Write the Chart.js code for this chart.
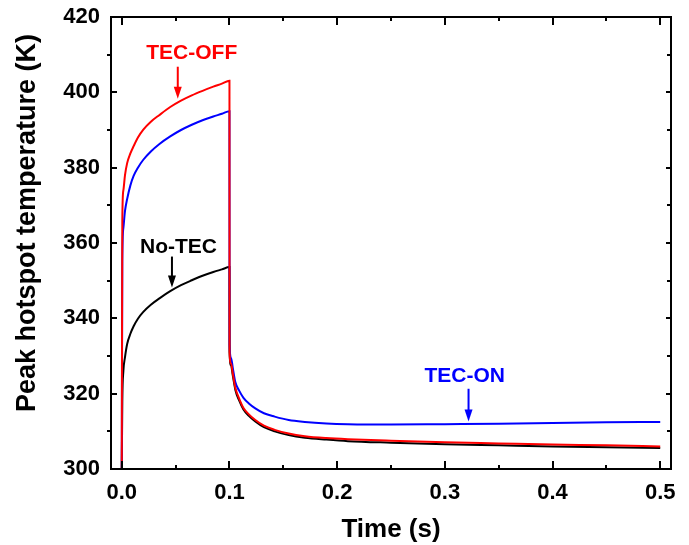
<!DOCTYPE html>
<html>
<head>
<meta charset="utf-8">
<script src="https://cdn.jsdelivr.net/npm/chart.js@4"></script>
<style>
  html, body { margin: 0; padding: 0; background: #fff; }
  canvas { display: block; }
</style>
</head>
<body>
<canvas id="tempChart" width="689" height="545"></canvas>
<script>
// time points (s) — 0.1 and 0.1001 bracket the pulse-off drop
const times = [0, 0.0005, 0.0015, 0.003, 0.005, 0.008, 0.011, 0.015, 0.02, 0.027, 0.035, 0.045, 0.055, 0.065, 0.075, 0.085, 0.093, 0.1,
  0.1001, 0.1015, 0.103, 0.1055, 0.109, 0.113, 0.118, 0.124, 0.132, 0.142, 0.155, 0.17, 0.19, 0.21, 0.25, 0.3, 0.35, 0.4, 0.45, 0.5];

// peak hotspot temperature (K)
const tecOff = [300, 366, 374, 378, 381.2, 383.8, 385.7, 388, 390.1, 392.2, 394, 396.1, 397.8, 399.2, 400.4, 401.5, 402.3, 403.1,
  331, 328, 325.5, 321.5, 318.7, 316.2, 314.5, 313.0, 311.5, 310.4, 309.4, 308.7, 308.2, 307.9, 307.5, 307.1, 306.8, 306.5, 306.3, 306.0];
const tecOn = [300, 355, 364, 368.5, 371.7, 375.3, 377.8, 380, 382.1, 384.3, 386.3, 388.3, 390.0, 391.4, 392.6, 393.6, 394.3, 395.0,
  333, 329.5, 327, 323, 320.8, 318.9, 317.4, 316.1, 314.8, 313.9, 313.0, 312.5, 312.1, 311.9, 311.8, 311.9, 312.0, 312.2, 312.4, 312.5];
const noTec = [300, 318, 326, 329.7, 333.2, 335.9, 337.9, 339.9, 341.7, 343.6, 345.3, 347.2, 348.8, 350.1, 351.3, 352.3, 353.0, 353.6,
  331, 327.5, 325, 321, 318.2, 315.8, 314.1, 312.6, 311.1, 310.0, 309.0, 308.3, 307.8, 307.4, 307.0, 306.6, 306.3, 306.0, 305.8, 305.6];

const xTicks = [0, 0.1, 0.2, 0.3, 0.4, 0.5];
const yTicks = [300, 320, 340, 360, 380, 400, 420];
const xMinor = [0.05, 0.15, 0.25, 0.35, 0.45];
const yMinor = [310, 330, 350, 370, 390, 410];

// labels with arrows: [text, colour, textX, textY, arrowX, arrowFromY, arrowToY] in data units
const labels = [
  ['TEC-OFF', '#ff0000', 0.065, 410.5, 0.052, 406.8, 398.3],
  ['No-TEC', '#000000', 0.0527, 358.9, 0.0466, 356.4, 348.2],
  ['TEC-ON', '#0000ff', 0.3185, 324.6, 0.322, 321.3, 312.6]
];

const FONT = '"Liberation Sans", Arial, sans-serif';

function pts(ys) {
  return times.map((t, i) => ({ x: t, y: ys[i] }));
}

// frame, ticks, y title and the arrow labels
const decor = {
  id: 'decor',
  afterDraw(chart) {
    const ctx = chart.ctx;
    const a = chart.chartArea;
    const xs = chart.scales.x, ys = chart.scales.y;
    ctx.save();
    ctx.strokeStyle = '#000';
    ctx.lineWidth = 2;
    ctx.beginPath();
    function tick(x1, y1, x2, y2) { ctx.moveTo(x1, y1); ctx.lineTo(x2, y2); }
    xTicks.forEach(v => {
      const p = Math.round(xs.getPixelForValue(v));
      tick(p, a.bottom, p, a.bottom - 8);
      tick(p, a.top, p, a.top + 8);
    });
    xMinor.forEach(v => {
      const p = Math.round(xs.getPixelForValue(v));
      tick(p, a.bottom, p, a.bottom - 4);
      tick(p, a.top, p, a.top + 4);
    });
    yTicks.forEach(v => {
      const p = Math.round(ys.getPixelForValue(v));
      tick(a.left, p, a.left + 6, p);
      tick(a.right, p, a.right - 5, p);
    });
    yMinor.forEach(v => {
      const p = Math.round(ys.getPixelForValue(v));
      tick(a.left, p, a.left - 4, p);
      tick(a.right, p, a.right - 4, p);
    });
    ctx.stroke();
    ctx.strokeRect(a.left, a.top, a.right - a.left, a.bottom - a.top);

    // y axis title
    ctx.fillStyle = '#000';
    ctx.font = 'bold 27px ' + FONT;
    ctx.textAlign = 'center';
    ctx.textBaseline = 'middle';
    ctx.translate(28, 223);
    ctx.rotate(-Math.PI / 2);
    ctx.fillText('Peak hotspot temperature (K)', 0, 0);
    ctx.restore();

    ctx.save();
    ctx.font = 'bold 21px ' + FONT;
    ctx.textAlign = 'center';
    ctx.textBaseline = 'middle';
    labels.forEach(([txt, col, tx, ty, ax, ay1, ay2]) => {
      ctx.fillStyle = col;
      ctx.strokeStyle = col;
      ctx.fillText(txt, xs.getPixelForValue(tx), ys.getPixelForValue(ty));
      const x = xs.getPixelForValue(ax);
      const y1 = ys.getPixelForValue(ay1), y2 = ys.getPixelForValue(ay2);
      ctx.lineWidth = 2;
      ctx.beginPath();
      ctx.moveTo(x, y1);
      ctx.lineTo(x, y2 - 10);
      ctx.stroke();
      ctx.beginPath();
      ctx.moveTo(x - 4, y2 - 12);
      ctx.lineTo(x + 4, y2 - 12);
      ctx.lineTo(x, y2);
      ctx.closePath();
      ctx.fill();
    });
    ctx.restore();
  }
};

const line = { borderWidth: 2, pointRadius: 0, cubicInterpolationMode: 'monotone' };

const ctx = document.getElementById('tempChart').getContext('2d');
new Chart(ctx, {
  type: 'line',
  data: {
    datasets: [
      { label: 'TEC-OFF', data: pts(tecOff), borderColor: '#ff0000', ...line },
      { label: 'TEC-ON', data: pts(tecOn), borderColor: '#0000ff', ...line },
      { label: 'No-TEC', data: pts(noTec), borderColor: '#000000', ...line }
    ]
  },
  options: {
    responsive: false,
    animation: false,
    devicePixelRatio: 1,
    layout: { padding: { top: 17, right: 18, left: 0, bottom: 0 } },
    plugins: { legend: { display: false }, tooltip: { enabled: false } },
    scales: {
      x: {
        type: 'linear',
        min: -0.01,
        max: 0.51,
        grid: { display: false },
        border: { display: false },
        afterBuildTicks: s => { s.ticks = xTicks.map(v => ({ value: v })); },
        afterFit: s => { s.height = 76; s.paddingLeft = 0; s.paddingRight = 0; },
        ticks: {
          color: '#000',
          padding: 3,
          maxRotation: 0,
          font: { family: FONT, size: 22, weight: 'bold' },
          callback: v => v.toFixed(1)
        },
        title: {
          display: true,
          text: 'Time (s)',
          color: '#000',
          font: { family: FONT, size: 26, weight: 'bold' },
          padding: { top: 6, bottom: 0 }
        }
      },
      y: {
        min: 300,
        max: 420,
        grid: { display: false },
        border: { display: false },
        afterBuildTicks: s => { s.ticks = yTicks.map(v => ({ value: v })); },
        afterFit: s => { s.width = 111; s.paddingTop = 0; s.paddingBottom = 0; },
        ticks: {
          color: '#000',
          padding: 3,
          font: { family: FONT, size: 22, weight: 'bold' }
        }
      }
    }
  },
  plugins: [decor]
});
</script>
</body>
</html>
